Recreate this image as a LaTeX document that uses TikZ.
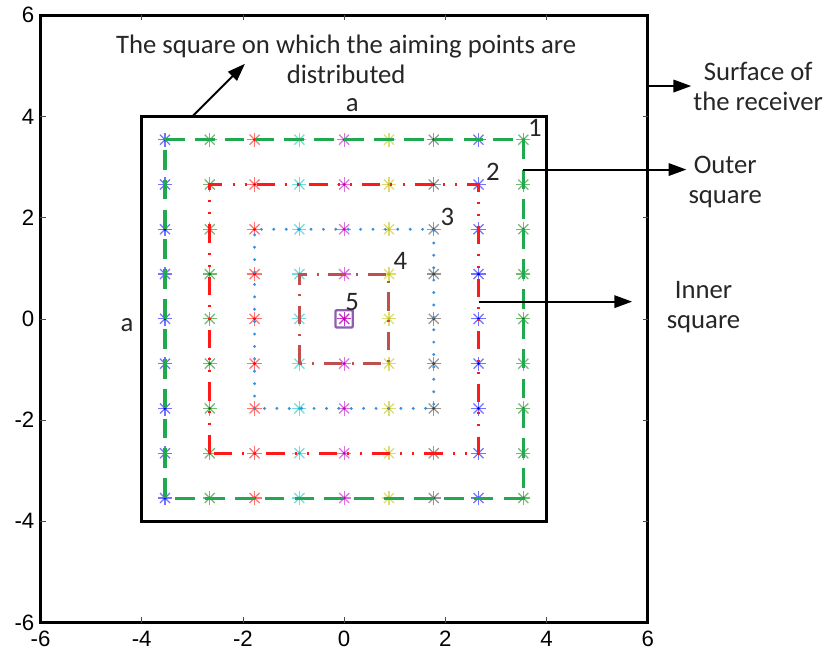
\documentclass[tikz,border=0pt]{standalone}
\usepackage{fontspec}
\setmainfont{Carlito}
\newfontfamily\axisfont{Liberation Sans}
\usetikzlibrary{arrows.meta}

\definecolor{mB}{rgb}{0,0,1}
\definecolor{mG}{rgb}{0,0.5,0}
\definecolor{mR}{rgb}{1,0,0}
\definecolor{mC}{rgb}{0,0.75,0.75}
\definecolor{mM}{rgb}{0.75,0,0.75}
\definecolor{mY}{rgb}{0.75,0.75,0}
\definecolor{mK}{rgb}{0.25,0.25,0.25}
\definecolor{sqGreen}{HTML}{21A94F}
\definecolor{sqRed}{HTML}{FF1A1A}
\definecolor{sqBlue}{HTML}{3C8FDC}
\definecolor{sqBrown}{HTML}{C0504D}
\definecolor{sqPurple}{HTML}{8E5FB0}

\begin{document}
\begin{tikzpicture}[
    frame/.style={line width=1.8pt, black},
    tickmark/.style={line width=0.4pt, black!70},
    ticklbl/.style={font=\axisfont\fontsize{12.5}{14}\selectfont, inner sep=1pt},
    note/.style={font=\fontsize{15}{16.8}\selectfont, align=center, inner sep=1pt, text=black!85},
    num/.style={font=\fontsize{15}{16}\selectfont, inner sep=0pt, text=black!85},
    arr/.style={-{Triangle[length=10pt,width=7pt]}, line width=1.1pt},
    spoke/.style={line width=0.7pt, opacity=0.55},
    sqA/.style={sqGreen, line width=1.7pt, dash pattern=on 0.39cm off 0.2cm},
    sqB/.style={sqRed, line width=1.7pt,
                dash pattern=on 0.36cm off 0.2cm on 0.04cm off 0.2cm on 0.04cm off 0.2cm},
    sqC/.style={sqBlue, line width=1.8pt, line cap=round, dash pattern=on 0pt off 0.245cm},
    sqD/.style={sqBrown, line width=1.7pt, dash pattern=on 0.36cm off 0.19cm on 0.04cm off 0.19cm},
]
\useasboundingbox (-6.80,-6.60) rectangle (9.54,6.30);

\def\d{0.885}
\def\r{0.14}

% --- Receiver surface (axes box) ---
\draw[frame] (-6,-6) rectangle (6,6);
\foreach \v in {-4,-2,...,4} {
    \draw[tickmark] (\v,-6) -- ++(0,0.1);
    \draw[tickmark] (\v,6) -- ++(0,-0.1);
    \draw[tickmark] (-6,\v) -- ++(0.1,0);
    \draw[tickmark] (6,\v) -- ++(-0.1,0);
}
\foreach \v in {-6,-4,...,6} {
    \node[ticklbl, anchor=east] (ly\v) at (-6.08,\v) {\v};
    \node[ticklbl, anchor=north] (lx\v) at (\v,-6.12) {\v};
}

% --- Square of side a ---
\draw[frame] (-4,-4) rectangle (4,4);
\node[num] (atop) at (0.16,4.23) {a};
\node[num] (aleft) at (-4.29,-0.12) {a};

% --- Aiming points (one colour per column) ---
\foreach \i/\c in {0/mB, 1/mG, 2/mR, 3/mC, 4/mM, 5/mY, 6/mK, 7/mB, 8/mG} {
    \foreach \j in {0,...,8} {
        \begin{scope}[shift={({(\i-4)*\d},{(\j-4)*\d})}]
            \foreach \a in {0,45,90,135}
                \draw[spoke, \c] (\a:\r) -- (\a+180:\r);
            \fill[\c] (0,0) circle (0.03);
        \end{scope}
    }
}

% --- Nested squares 1..4 ---
\draw[sqA] (-4*\d,-4*\d) rectangle (4*\d,4*\d);
\draw[sqB] (-3*\d,-3*\d) rectangle (3*\d,3*\d);
\draw[sqC] (-2*\d,-2*\d) rectangle (2*\d,2*\d);
\draw[sqD] (-\d,-\d) rectangle (\d,\d);

% square 5 (centre point)
\draw[sqPurple, line width=1.3pt, rounded corners=0.5pt] (-0.17,-0.17) rectangle (0.17,0.17);
\foreach \a in {0,45,90,135}
    \draw[spoke, mM] (\a:\r) -- (\a+180:\r);
\fill[mM] (0,0) circle (0.03);

\node[num] (n1) at (3.77,3.77) {1};
\node[num] (n2) at (2.94,2.91) {2};
\node[num] (n3) at (2.04,2.02) {3};
\node[num] (n4) at (1.11,1.15) {4};
\node[num] (n5) at (0.16,0.34) {5};

% --- Annotations ---
\node[note] (aimtxt) at (0.04,5.13)
    {The square on which the aiming points are\\distributed};
\coordinate (aimfrom) at (-3.0,4);
\coordinate (aimto) at (-1.96,5.04);
\draw[arr] (aimfrom) -- (aimto);

\node[note] (surftxt) at (8.18,4.6) {Surface of\\the receiver};
\coordinate (surffrom) at (6,4.6);
\draw[arr] (surffrom) -- (surffrom -| surftxt.west);

\node[note] (outertxt) at (7.53,2.71) {Outer\\square};
\coordinate (outerfrom) at (4*\d,2.95);
\draw[arr] (outerfrom) -- (outerfrom -| outertxt.west);

\node[note] (innertxt) at (7.1,0.24) {Inner\\square};
\coordinate (innerfrom) at (3*\d,0.34);
\coordinate (innerto) at (5.69,0.34);
\draw[arr] (innerfrom) -- (innerto);

\end{tikzpicture}
\end{document}
